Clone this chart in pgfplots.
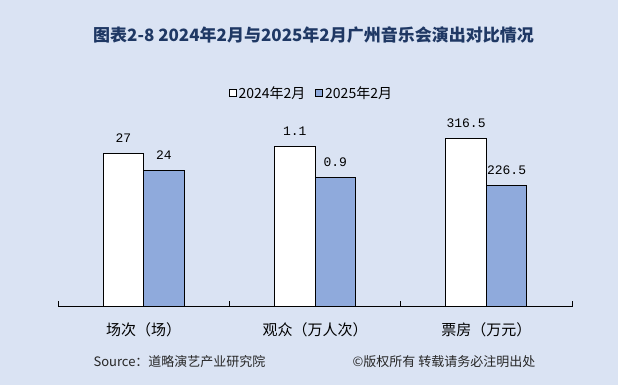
\documentclass[border=0pt]{standalone}
\usepackage{fontspec}
\setmainfont{Noto Sans CJK SC}
\newfontfamily\numfont{Liberation Mono}
\usepackage{pgfplots}
\pgfplotsset{compat=1.18}
\definecolor{bg}{RGB}{218,227,243}
\definecolor{barblue}{RGB}{143,170,220}
\definecolor{titleblue}{RGB}{31,56,100}
\pgfplotsset{sq legend/.style={legend image code/.code={\draw[##1, line width=0.8pt] (0pt,-3.5pt) rectangle (7pt,3.5pt);}}}
% bar heights drawn to the reference's proportions; labels carry the reported values
\pgfplotstableread{
x y label
0 153 27
1 160 1.1
2 168 316.5
}\dataA
\pgfplotstableread{
x y label
0 136 24
1 129 0.9
2 121 226.5
}\dataB
\begin{document}
\begin{tikzpicture}
\fill[bg] (0,0) rectangle (618pt,385pt);
\node[font=\fontsize{17}{20}\selectfont\bfseries, text=titleblue] at (313.5pt,350pt) {图表2-8 2024年2月与2025年2月广州音乐会演出对比情况};
\begin{axis}[
 at={(58pt,78pt)}, anchor=south west,
 scale only axis, width=514pt, height=200pt,
 xmin=-0.5, xmax=2.5, ymin=0, ymax=200,
 ybar=0pt, bar width=40.5pt,
 axis x line*=bottom, hide y axis,
 axis line style={black, line width=1pt},
 xtick={0,1,2}, xticklabels={场次（场）,观众（万人次）,票房（万元）},
 major tick length=0pt,
 minor xtick={-0.5,0.5,1.5,2.5}, minor tick length=6pt, tick align=inside,
 minor tick style={black, line width=1pt},
 xticklabel style={font=\fontsize{15}{18}\selectfont, anchor=center, yshift=-23pt},
 nodes near coords, point meta=explicit symbolic,
 every node near coord/.append style={font=\numfont\fontsize{13}{15}\selectfont, inner sep=0pt, yshift=11pt, text=black},
 legend style={at={(axis description cs:0.493,1)}, anchor=center, yshift=14pt, draw=none, fill=none,
   font=\fontsize{14}{16}\selectfont, /tikz/every even column/.append style={column sep=8pt}},
 legend columns=2,
 clip=false,
]
\addplot[fill=white, draw=black, line width=1pt, sq legend] table[x=x, y=y, meta=label] {\dataA};
\addplot[fill=barblue, draw=black, line width=1pt, sq legend] table[x=x, y=y, meta=label] {\dataB};
\legend{2024年2月, 2025年2月}
\end{axis}
\node[anchor=west, font=\fontsize{13}{15}\selectfont, text=black!85] at (90pt,23pt) {Source：道略演艺产业研究院};
\node[anchor=west, font=\fontsize{13}{15}\selectfont, text=black!85] at (349pt,23pt) {©版权所有\ 转载请务必注明出处};
\pgfresetboundingbox
\path[use as bounding box] (0,0) rectangle (618pt,385pt);
\end{tikzpicture}
\end{document}
